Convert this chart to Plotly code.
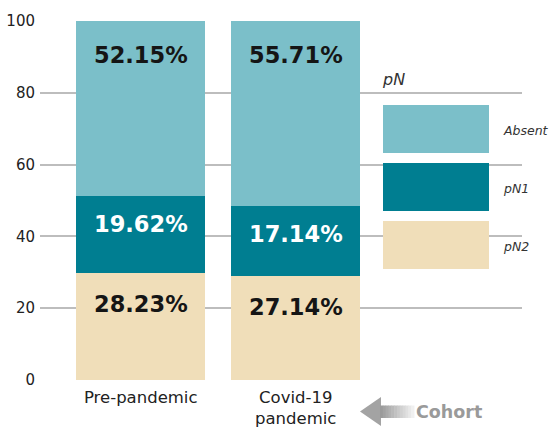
import plotly.graph_objects as go

# ---- data ----
cohorts = ["Pre-pandemic", "Covid-19<br>pandemic"]
series_names = ["pN2", "pN1", "Absent"]
pn2_values = [29.9, 29.0]
pn1_values = [21.4, 19.5]
absent_values = [48.7, 51.5]
pn2_labels = ["28.23%", "27.14%"]
pn1_labels = ["19.62%", "17.14%"]
absent_labels = ["52.15%", "55.71%"]
y_ticks = [0, 20, 40, 60, 80, 100]

colors = {"Absent": "#7bbfc9", "pN1": "#007e91", "pN2": "#f0deb9"}
FONT = "DejaVu Sans"

W, H = 550, 429
ML, MR, MT, MB = 40, 28, 21, 49
PW, PH = W - ML - MR, H - MT - MB


def px(x):
    return (x - ML) / PW


def py(y):
    return (H - MB - y) / PH


fig = go.Figure()
values = {"pN2": pn2_values, "pN1": pn1_values, "Absent": absent_values}
labels = {"pN2": pn2_labels, "pN1": pn1_labels, "Absent": absent_labels}
for name in series_names:
    fig.add_trace(go.Bar(x=cohorts, y=values[name], name=name,
                         marker=dict(color=colors[name], line=dict(width=0)),
                         hoverinfo="skip"))

# percentage labels near the top of each segment
shifts = {"pN2": -31, "pN1": -28, "Absent": -34}
txtcol = {"pN2": "#151515", "pN1": "#ffffff", "Absent": "#151515"}
cum = [0.0] * len(cohorts)
for name in series_names:
    for i, c in enumerate(cohorts):
        cum[i] += values[name][i]
        fig.add_annotation(x=c, y=cum[i], xref="x", yref="y", text="<b>%s</b>" % labels[name][i],
                           showarrow=False, yshift=shifts[name], yanchor="middle",
                           font=dict(family=FONT, size=22.5, color=txtcol[name]))

# custom legend
fig.add_annotation(x=px(380), y=py(80), xref="paper", yref="paper", text="<i>pN</i>",
                   showarrow=False, xanchor="left", yanchor="middle",
                   font=dict(family=FONT, size=16, color="#333333"))
leg_rows = [("Absent", 105, 153), ("pN1", 163, 211), ("pN2", 221, 269)]
for name, y0, y1 in leg_rows:
    fig.add_shape(type="rect", xref="paper", yref="paper", x0=px(383), x1=px(489),
                  y0=py(y1), y1=py(y0), fillcolor=colors[name], line=dict(width=0), layer="above")
    fig.add_annotation(x=px(501), y=py((y0 + y1) / 2 + 1), xref="paper", yref="paper",
                       text="<i>%s</i>" % name, showarrow=False, xanchor="left", yanchor="middle",
                       font=dict(family=FONT, size=12.5, color="#333333"))

# Cohort arrow
fig.add_shape(type="path", xref="paper", yref="paper",
              path="M %f %f L %f %f L %f %f Z" % (px(360), py(411.5), px(381), py(397), px(381), py(426)),
              fillcolor="#a3a3a3", line=dict(width=0))
n = 12
x_start, x_end = 380, 414
for k in range(n):
    xa = x_start + (x_end - x_start) * k / n
    xb = x_start + (x_end - x_start) * (k + 1) / n + 0.5
    g = int(155 + (240 - 155) * k / (n - 1))
    fig.add_shape(type="rect", xref="paper", yref="paper", x0=px(xa), x1=px(xb),
                  y0=py(418), y1=py(405.5), fillcolor="rgb(%d,%d,%d)" % (g, g, g), line=dict(width=0))
fig.add_annotation(x=px(414), y=py(411.5), xref="paper", yref="paper", text="<b>Cohort</b>",
                   showarrow=False, xanchor="left", yanchor="middle",
                   font=dict(family=FONT, size=17.5, color="#9a9a9a"))

fig.update_layout(
    width=W, height=H, barmode="stack", bargap=0.168, showlegend=False,
    margin=dict(l=ML, r=MR, t=MT, b=MB), plot_bgcolor="white", paper_bgcolor="white",
    font=dict(family=FONT, size=15, color="#222222"),
    xaxis=dict(range=[-0.65, 2.46], showgrid=False, showline=False, zeroline=False,
               ticks="", ticklabelstandoff=5, tickfont=dict(family=FONT, size=16.5, color="#222222"),
               automargin=False),
    yaxis=dict(range=[0, 100], tickvals=y_ticks, showgrid=True, gridcolor="#bdbdbd", gridwidth=1.5,
               zeroline=False, showline=False, ticks="", ticklabelstandoff=4,
               tickfont=dict(family=FONT, size=15, color="#222222"), automargin=False),
)

fig.write_html("out.html", config={"displayModeBar": False},
               post_script="document.body.style.margin='0px';document.body.style.overflow='hidden';")
